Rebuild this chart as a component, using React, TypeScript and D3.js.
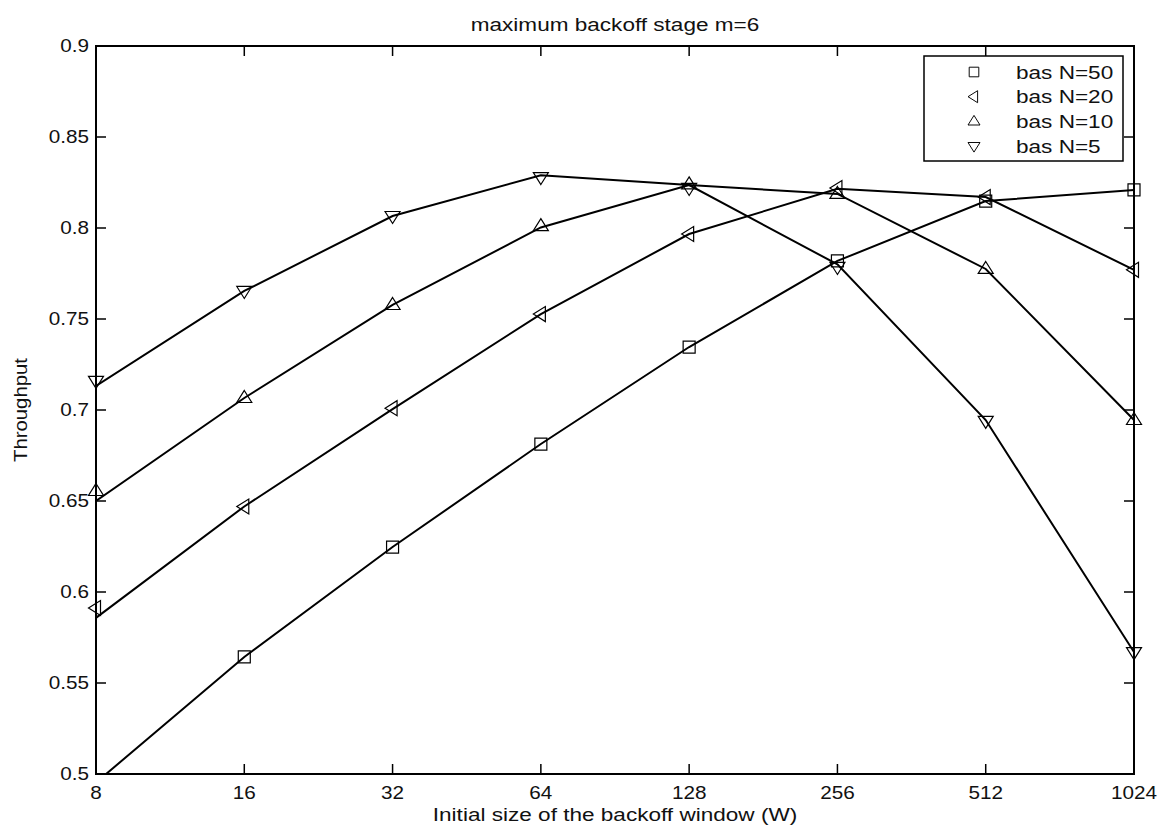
import React from "react";
import * as d3 from "d3";

// Initial backoff window sizes (log2 axis)
const windowSizes = [8, 16, 32, 64, 128, 256, 512, 1024];
const yTicks = [0.5, 0.55, 0.6, 0.65, 0.7, 0.75, 0.8, 0.85, 0.9];

// Analytical throughput (lines)
const lineN50 = [0.4953, 0.5643, 0.6247, 0.6813, 0.7346, 0.7819, 0.8148, 0.8209];
const lineN20 = [0.5858, 0.6470, 0.7005, 0.7527, 0.7967, 0.8215, 0.8170, 0.7770];
const lineN10 = [0.6500, 0.7066, 0.7577, 0.8003, 0.8236, 0.8187, 0.7775, 0.6945];
const lineN5 = [0.7132, 0.7654, 0.8066, 0.8290, 0.8236, 0.7800, 0.6945, 0.5670];

// Simulated throughput (markers)
const simN50 = [0.4953, 0.5643, 0.6247, 0.6813, 0.7346, 0.7819, 0.8148, 0.8209];
const simN20 = [0.5912, 0.6470, 0.7010, 0.7527, 0.7967, 0.8220, 0.8170, 0.7770];
const simN10 = [0.6555, 0.7066, 0.7577, 0.8010, 0.8240, 0.8187, 0.7775, 0.6945];
const simN5 = [0.7160, 0.7654, 0.8066, 0.8280, 0.8220, 0.7786, 0.6940, 0.5670];

const seriesNames = ["bas N=50", "bas N=20", "bas N=10", "bas N=5"];
const markerKinds = ["square", "triLeft", "triUp", "triDown"];

const W = 1162;
const H = 829;
const M = { left: 96, right: 1134, top: 46, bottom: 774 };
const FONT = "'Liberation Sans', Arial, Helvetica, sans-serif";

function markerPath(kind: string, cx: number, cy: number): string {
  const s = 6;
  const t = 7.5;
  switch (kind) {
    case "square":
      return `M${cx - s},${cy - s}H${cx + s}V${cy + s}H${cx - s}Z`;
    case "triLeft":
      return `M${cx - t},${cy}L${cx + t * 0.6},${cy - t}L${cx + t * 0.6},${cy + t}Z`;
    case "triUp":
      return `M${cx},${cy - t}L${cx + t},${cy + t * 0.6}L${cx - t},${cy + t * 0.6}Z`;
    default:
      return `M${cx},${cy + t}L${cx + t},${cy - t * 0.6}L${cx - t},${cy - t * 0.6}Z`;
  }
}

// Text widened horizontally, anchored at (x, y)
function WideText(props: {
  x: number;
  y: number;
  sx: number;
  size: number;
  anchor?: string;
  dy?: string;
  rotate?: number;
  children: React.ReactNode;
}) {
  const { x, y, sx, size, anchor = "start", dy, rotate = 0, children } = props;
  return (
    <text
      transform={`translate(${x} ${y}) rotate(${rotate}) scale(${sx} 1)`}
      textAnchor={anchor}
      dy={dy}
      fontFamily={FONT}
      fontSize={size}
      fill="#111"
    >
      {children}
    </text>
  );
}

export default function App() {
  const x = d3.scaleLog().base(2).domain([8, 1024]).range([M.left, M.right]);
  const y = d3.scaleLinear().domain([0.5, 0.9]).range([M.bottom, M.top]);

  const lines = [lineN50, lineN20, lineN10, lineN5];
  const sims = [simN50, simN20, simN10, simN5];

  const lineGen = d3
    .line<number>()
    .x((_, i) => x(windowSizes[i]))
    .y((d) => y(d));

  const tickLen = 10;

  return (
    <svg
      width={W}
      height={H}
      style={{ display: "block", background: "#fff", position: "absolute", left: 0, top: 0 }}
    >
      <defs>
        <clipPath id="plotClip">
          <rect x={M.left} y={M.top} width={M.right - M.left} height={M.bottom - M.top} />
        </clipPath>
      </defs>

      {/* title */}
      <WideText x={615} y={31} sx={1.22} size={18.5} anchor="middle">
        maximum backoff stage m=6
      </WideText>

      {/* series lines */}
      <g clipPath="url(#plotClip)">
        {lines.map((vals, k) => (
          <path key={k} d={lineGen(vals) || ""} fill="none" stroke="#000" strokeWidth={2} />
        ))}
      </g>

      {/* simulation markers (only those inside the value range) */}
      {sims.map((vals, k) =>
        vals.map((v, i) =>
          v < 0.5 ? null : (
            <path
              key={`${k}-${i}`}
              d={markerPath(markerKinds[k], x(windowSizes[i]), y(v))}
              fill="none"
              stroke="#000"
              strokeWidth={1.2}
            />
          )
        )
      )}

      {/* frame */}
      <rect
        x={M.left}
        y={M.top}
        width={M.right - M.left}
        height={M.bottom - M.top}
        fill="none"
        stroke="#000"
        strokeWidth={2}
      />

      {/* x ticks and labels */}
      {windowSizes.map((w) => (
        <g key={w}>
          <line x1={x(w)} x2={x(w)} y1={M.bottom} y2={M.bottom - tickLen} stroke="#000" strokeWidth={1.5} />
          <line x1={x(w)} x2={x(w)} y1={M.top} y2={M.top + tickLen} stroke="#000" strokeWidth={1.5} />
          <WideText x={x(w)} y={799} sx={1.15} size={18} anchor="middle">
            {w}
          </WideText>
        </g>
      ))}

      {/* y ticks and labels */}
      {yTicks.map((t) => (
        <g key={t}>
          <line x1={M.left} x2={M.left + tickLen} y1={y(t)} y2={y(t)} stroke="#000" strokeWidth={1.5} />
          <line x1={M.right} x2={M.right - tickLen} y1={y(t)} y2={y(t)} stroke="#000" strokeWidth={1.5} />
          <WideText x={89} y={y(t)} sx={1.15} size={18} anchor="end" dy="0.35em">
            {d3.format("")(+t.toFixed(2))}
          </WideText>
        </g>
      ))}

      {/* axis titles */}
      <WideText x={615} y={821} sx={1.22} size={18.5} anchor="middle">
        Initial size of the backoff window (W)
      </WideText>
      <WideText x={27} y={410} sx={1.1} size={18.5} anchor="middle" rotate={-90}>
        Throughput
      </WideText>

      {/* legend */}
      <g>
        <rect x={924} y={56} width={199} height={105} fill="#fff" stroke="#000" strokeWidth={1.5} />
        {seriesNames.map((name, k) => {
          const ry = 72 + k * 24.7;
          return (
            <g key={name}>
              <path
                d={markerPath(markerKinds[k], 974, ry)}
                fill="none"
                stroke="#000"
                strokeWidth={1.2}
                transform={`translate(974 ${ry}) scale(0.8) translate(-974 ${-ry})`}
              />
              <WideText x={1016} y={ry} sx={1.22} size={18.5} dy="0.36em">
                {name}
              </WideText>
            </g>
          );
        })}
      </g>
    </svg>
  );
}
